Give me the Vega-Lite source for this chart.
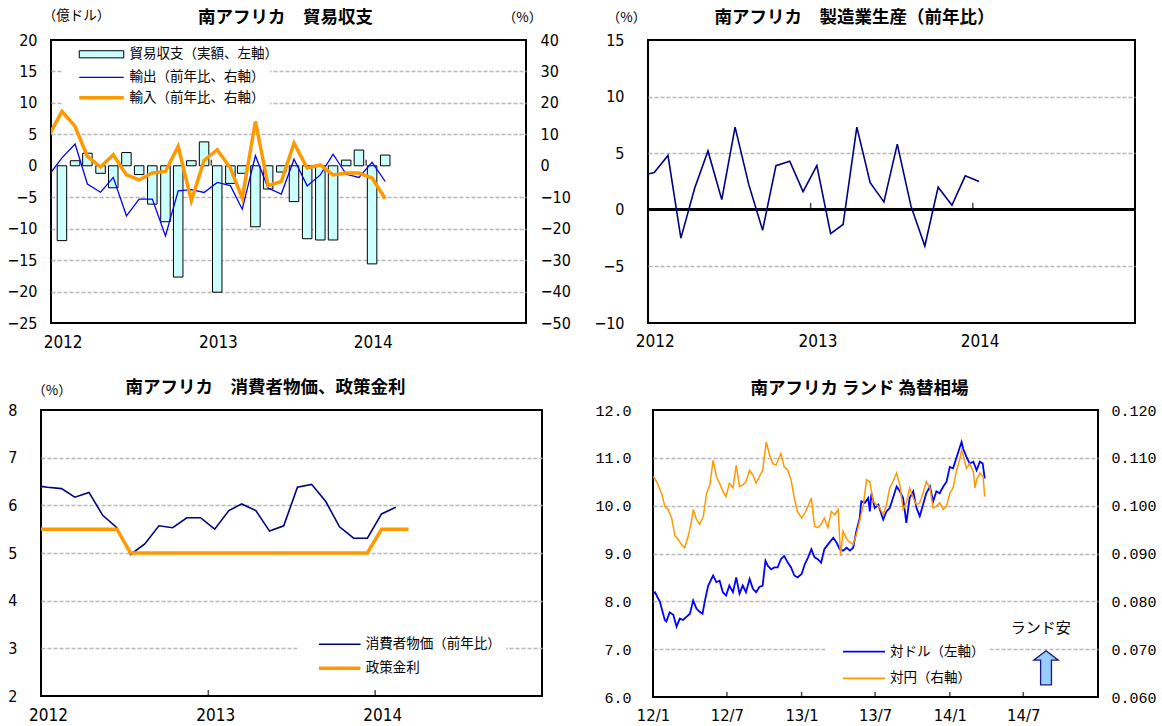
{
  "$schema": "https://vega.github.io/schema/vega-lite/v6.json",
  "background": "white",
  "autosize": {"type": "none"},
  "padding": {"left": 41, "top": 40, "right": 1121, "bottom": 686},
  "bounds": "flush",
  "spacing": 370,
  "resolve": {"scale": {"color": "independent", "fill": "independent", "stroke": "independent"}},
  "vconcat": [
    {
      "bounds": "flush",
      "spacing": 0,
      "resolve": {"scale": {"color": "independent", "fill": "independent", "stroke": "independent"}},
      "hconcat": [
        {"width": 10, "height": 1, "data": {"values": []}, "mark": {"type": "point", "opacity": 0}, "view": {"stroke": null}},
        {
          "width": 475,
          "height": 283,
          "title": {"text": "南アフリカ　貿易収支", "dx": -3, "dy": 22, "offset": 4},
          "layer": [
            {
              "layer": [
                {
                  "data": {"values": [
                    {"month": "2012-01-15", "balance": -11.9}, {"month": "2012-02-15", "balance": 0.8},
                    {"month": "2012-03-15", "balance": 2.0}, {"month": "2012-04-15", "balance": -1.2},
                    {"month": "2012-05-15", "balance": -3.5}, {"month": "2012-06-15", "balance": 2.1},
                    {"month": "2012-07-15", "balance": -1.4}, {"month": "2012-08-15", "balance": -6.1},
                    {"month": "2012-09-15", "balance": -8.9}, {"month": "2012-10-15", "balance": -17.7},
                    {"month": "2012-11-15", "balance": 0.8}, {"month": "2012-12-15", "balance": 3.8},
                    {"month": "2013-01-15", "balance": -20.1}, {"month": "2013-02-15", "balance": -2.8},
                    {"month": "2013-03-15", "balance": -1.2}, {"month": "2013-04-15", "balance": -9.7},
                    {"month": "2013-05-15", "balance": -3.7}, {"month": "2013-06-15", "balance": -1.0},
                    {"month": "2013-07-15", "balance": -5.7}, {"month": "2013-08-15", "balance": -11.6},
                    {"month": "2013-09-15", "balance": -11.8}, {"month": "2013-10-15", "balance": -11.8},
                    {"month": "2013-11-15", "balance": 0.9}, {"month": "2013-12-15", "balance": 2.5},
                    {"month": "2014-01-15", "balance": -15.6}, {"month": "2014-02-15", "balance": 1.7}
                  ]},
                  "mark": {"type": "bar", "orient": "vertical", "size": 9.5, "stroke": "black", "strokeWidth": 1},
                  "encoding": {
                    "x": {
                      "field": "month", "type": "temporal",
                      "scale": {"type": "utc", "nice": false, "domain": [{"year": 2012, "month": 1, "date": 1, "utc": true}, {"year": 2015, "month": 1, "date": 1, "utc": true}]},
                      "axis": {
                        "title": null, "grid": false, "format": "%Y", "labelOffset": 6.6, "labelFontSize": 17, "labelPadding": 11, "labelFlush": false, "labelOverlap": false,
                        "values": [{"year": 2012, "month": 1, "date": 1, "utc": true}, {"year": 2013, "month": 1, "date": 1, "utc": true}, {"year": 2014, "month": 1, "date": 1, "utc": true}]
                      }
                    },
                    "y": {
                      "field": "balance", "type": "quantitative",
                      "scale": {"domain": [-25, 20], "nice": false},
                      "axis": {
                        "title": "（億ドル）", "titleAngle": 0, "titleX": 25, "titleY": -25, "titleAlign": "center", "titleBaseline": "middle",
                        "values": [-25, -20, -15, -10, -5, 0, 5, 10, 15, 20], "tickCount": 20, "format": "d", "labelPadding": 14, "labelOverlap": false, "grid": true,
                        "gridOpacity": {"condition": {"test": "datum.value === 20 || datum.value === -25 || datum.value === 0", "value": 0}, "value": 1}
                      }
                    },
                    "fill": {
                      "datum": "貿易収支（実額、左軸）", "type": "nominal",
                      "scale": {"range": ["#ccffff"]},
                      "legend": {
                        "title": null, "orient": "none", "legendX": 12, "legendY": 2.3, "padding": 5, "symbolOffset": 10.5, "labelOffset": 5, "symbolSize": 1980, "clipHeight": 14,
                        "symbolType": "M-1,-0.16H1V0.16H-1Z", "symbolStrokeColor": "black", "symbolStrokeWidth": 1
                      }
                    }
                  }
                },
                {
                  "data": {"values": [{"month": "2013-01-01", "balance": 0}, {"month": "2014-01-01", "balance": 0}]},
                  "mark": {"type": "tick", "orient": "vertical", "size": 6, "thickness": 1.5, "color": "black", "yOffset": -3},
                  "encoding": {"x": {"field": "month", "type": "temporal"}, "y": {"field": "balance", "type": "quantitative"}}
                },
                {
                  "mark": {"type": "rule", "color": "black", "strokeWidth": 2},
                  "encoding": {"y": {"datum": 0}}
                }
              ]
            },
            {
              "layer": [
                {
                  "data": {"values": [
                    {"month": "2011-12-15", "yoy": -3.0}, {"month": "2012-01-15", "yoy": 2.5}, {"month": "2012-02-15", "yoy": 6.9},
                    {"month": "2012-03-15", "yoy": -5.8}, {"month": "2012-04-15", "yoy": -8.4}, {"month": "2012-05-15", "yoy": -3.7},
                    {"month": "2012-06-15", "yoy": -15.9}, {"month": "2012-07-15", "yoy": -10.6}, {"month": "2012-08-15", "yoy": -10.6},
                    {"month": "2012-09-15", "yoy": -22.3}, {"month": "2012-10-15", "yoy": -8.0}, {"month": "2012-11-15", "yoy": -7.6},
                    {"month": "2012-12-15", "yoy": -8.5}, {"month": "2013-01-15", "yoy": -5.3}, {"month": "2013-02-15", "yoy": -6.3},
                    {"month": "2013-03-15", "yoy": -13.8}, {"month": "2013-04-15", "yoy": 3.2}, {"month": "2013-05-15", "yoy": -7.1},
                    {"month": "2013-06-15", "yoy": -9.0}, {"month": "2013-07-15", "yoy": 2.1}, {"month": "2013-08-15", "yoy": -6.4},
                    {"month": "2013-09-15", "yoy": -2.9}, {"month": "2013-10-15", "yoy": 3.7}, {"month": "2013-11-15", "yoy": -2.7},
                    {"month": "2013-12-15", "yoy": -3.7}, {"month": "2014-01-15", "yoy": 1.1}, {"month": "2014-02-15", "yoy": -5.0}
                  ]},
                  "mark": {"type": "line", "strokeWidth": 1.3, "clip": true},
                  "encoding": {
                    "x": {"field": "month", "type": "temporal"},
                    "y": {
                      "field": "yoy", "type": "quantitative",
                      "scale": {"domain": [-50, 40], "nice": false},
                      "axis": {
                        "orient": "right", "title": "（%）", "titleAngle": 0, "titleX": -4, "titleY": -23, "titleAlign": "center", "titleBaseline": "middle",
                        "values": [-50, -40, -30, -20, -10, 0, 10, 20, 30, 40], "tickCount": 20, "format": "d", "labelPadding": 14, "labelOverlap": false, "grid": false
                      }
                    },
                    "stroke": {
                      "datum": "輸出（前年比、右軸）", "type": "nominal",
                      "scale": {"range": ["#0000ff"]},
                      "legend": {
                        "title": null, "orient": "none", "legendX": 12, "legendY": 25.3, "padding": 5, "symbolOffset": 10.5, "labelOffset": 5, "symbolSize": 1980, "clipHeight": 14,
                        "symbolType": "stroke", "symbolStrokeWidth": 1.3
                      }
                    }
                  }
                },
                {
                  "data": {"values": [
                    {"month": "2011-12-15", "yoy": 9.5}, {"month": "2012-01-15", "yoy": 17.3}, {"month": "2012-02-15", "yoy": 12.5},
                    {"month": "2012-03-15", "yoy": 3.0}, {"month": "2012-04-15", "yoy": -0.4}, {"month": "2012-05-15", "yoy": 3.5},
                    {"month": "2012-06-15", "yoy": -2.9}, {"month": "2012-07-15", "yoy": -4.5}, {"month": "2012-08-15", "yoy": -2.3},
                    {"month": "2012-09-15", "yoy": -1.8}, {"month": "2012-10-15", "yoy": 6.2}, {"month": "2012-11-15", "yoy": -11.1},
                    {"month": "2012-12-15", "yoy": 1.7}, {"month": "2013-01-15", "yoy": 5.1}, {"month": "2013-02-15", "yoy": -0.7},
                    {"month": "2013-03-15", "yoy": -10.3}, {"month": "2013-04-15", "yoy": 14.1}, {"month": "2013-05-15", "yoy": -6.3},
                    {"month": "2013-06-15", "yoy": -5.0}, {"month": "2013-07-15", "yoy": 7.2}, {"month": "2013-08-15", "yoy": -0.7},
                    {"month": "2013-09-15", "yoy": 0.3}, {"month": "2013-10-15", "yoy": -2.9}, {"month": "2013-11-15", "yoy": -2.3},
                    {"month": "2013-12-15", "yoy": -2.3}, {"month": "2014-01-15", "yoy": -3.9}, {"month": "2014-02-15", "yoy": -10.5}
                  ]},
                  "mark": {"type": "line", "strokeWidth": 3.5, "clip": true},
                  "encoding": {
                    "x": {"field": "month", "type": "temporal"},
                    "y": {"field": "yoy", "type": "quantitative"},
                    "color": {
                      "datum": "輸入（前年比、右軸）", "type": "nominal",
                      "scale": {"range": ["#ff9900"]},
                      "legend": {
                        "title": null, "orient": "none", "legendX": 12, "legendY": 45.7, "padding": 5, "symbolOffset": 9.5, "labelOffset": 4, "symbolSize": 1980, "clipHeight": 14,
                        "symbolType": "stroke", "symbolStrokeWidth": 3.5
                      }
                    }
                  }
                }
              ]
            }
          ],
          "resolve": {"scale": {"y": "independent"}}
        },
        {"width": 122, "height": 1, "data": {"values": []}, "mark": {"type": "point", "opacity": 0}, "view": {"stroke": null}},
        {
          "width": 487,
          "height": 283,
          "title": {"text": "南アフリカ　製造業生産（前年比）", "dx": -37, "dy": 20, "offset": 4},
          "data": {"values": [
            {"month": "2011-12-15", "yoy": 3.0}, {"month": "2012-01-15", "yoy": 3.3}, {"month": "2012-02-15", "yoy": 4.8},
            {"month": "2012-03-15", "yoy": -2.5}, {"month": "2012-04-15", "yoy": 1.9}, {"month": "2012-05-15", "yoy": 5.2},
            {"month": "2012-06-15", "yoy": 0.9}, {"month": "2012-07-15", "yoy": 7.3}, {"month": "2012-08-15", "yoy": 2.2},
            {"month": "2012-09-15", "yoy": -1.8}, {"month": "2012-10-15", "yoy": 3.9}, {"month": "2012-11-15", "yoy": 4.3},
            {"month": "2012-12-15", "yoy": 1.6}, {"month": "2013-01-15", "yoy": 3.9}, {"month": "2013-02-15", "yoy": -2.1},
            {"month": "2013-03-15", "yoy": -1.3}, {"month": "2013-04-15", "yoy": 7.3}, {"month": "2013-05-15", "yoy": 2.4},
            {"month": "2013-06-15", "yoy": 0.7}, {"month": "2013-07-15", "yoy": 5.8}, {"month": "2013-08-15", "yoy": 0.3},
            {"month": "2013-09-15", "yoy": -3.2}, {"month": "2013-10-15", "yoy": 2.0}, {"month": "2013-11-15", "yoy": 0.4},
            {"month": "2013-12-15", "yoy": 3.0}, {"month": "2014-01-15", "yoy": 2.5}
          ]},
          "layer": [
            {
              "mark": {"type": "rule", "color": "black", "strokeWidth": 2},
              "encoding": {"y": {"datum": 0}}
            },
            {
              "data": {"values": [{"month": "2013-01-01", "yoy": 0}, {"month": "2014-01-01", "yoy": 0}]},
              "mark": {"type": "tick", "orient": "vertical", "size": 7, "thickness": 1.5, "color": "black", "yOffset": -3.5},
              "encoding": {"x": {"field": "month", "type": "temporal"}, "y": {"field": "yoy", "type": "quantitative"}}
            },
            {
              "mark": {"type": "line", "color": "#000080", "strokeWidth": 1.6, "clip": true},
              "encoding": {
                "x": {
                  "field": "month", "type": "temporal",
                  "scale": {"type": "utc", "nice": false, "domain": [{"year": 2012, "month": 1, "date": 1, "utc": true}, {"year": 2015, "month": 1, "date": 1, "utc": true}]},
                  "axis": {
                    "title": null, "grid": false, "format": "%Y", "labelOffset": 6.8, "labelFontSize": 17, "labelPadding": 10, "labelFlush": false, "labelOverlap": false,
                    "values": [{"year": 2012, "month": 1, "date": 1, "utc": true}, {"year": 2013, "month": 1, "date": 1, "utc": true}, {"year": 2014, "month": 1, "date": 1, "utc": true}]
                  }
                },
                "y": {
                  "field": "yoy", "type": "quantitative",
                  "scale": {"domain": [-10, 15], "nice": false},
                  "axis": {
                    "title": "（%）", "titleAngle": 0, "titleX": -22, "titleY": -23, "titleAlign": "center", "titleBaseline": "middle",
                    "values": [-10, -5, 0, 5, 10, 15], "format": "d", "labelPadding": 24, "labelOverlap": false, "grid": true,
                    "gridOpacity": {"condition": {"test": "datum.value === 15 || datum.value === -10 || datum.value === 0", "value": 0}, "value": 1}
                  }
                }
              }
            }
          ]
        }
      ]
    },
    {
      "bounds": "flush",
      "spacing": 0,
      "resolve": {"scale": {"color": "independent", "fill": "independent", "stroke": "independent"}},
      "hconcat": [
        {
          "width": 501,
          "height": 286,
          "title": {"text": "南アフリカ　消費者物価、政策金利", "dx": -26, "dy": 17, "offset": 4},
          "layer": [
            {
              "data": {"values": [
                {"month": "2011-12-15", "rate": 6.42}, {"month": "2012-01-15", "rate": 6.38}, {"month": "2012-02-15", "rate": 6.35},
                {"month": "2012-03-15", "rate": 6.17}, {"month": "2012-04-15", "rate": 6.27}, {"month": "2012-05-15", "rate": 5.79},
                {"month": "2012-06-15", "rate": 5.53}, {"month": "2012-07-15", "rate": 4.97}, {"month": "2012-08-15", "rate": 5.19},
                {"month": "2012-09-15", "rate": 5.57}, {"month": "2012-10-15", "rate": 5.53}, {"month": "2012-11-15", "rate": 5.74},
                {"month": "2012-12-15", "rate": 5.74}, {"month": "2013-01-15", "rate": 5.50}, {"month": "2013-02-15", "rate": 5.89},
                {"month": "2013-03-15", "rate": 6.03}, {"month": "2013-04-15", "rate": 5.89}, {"month": "2013-05-15", "rate": 5.46},
                {"month": "2013-06-15", "rate": 5.57}, {"month": "2013-07-15", "rate": 6.38}, {"month": "2013-08-15", "rate": 6.44},
                {"month": "2013-09-15", "rate": 6.08}, {"month": "2013-10-15", "rate": 5.55}, {"month": "2013-11-15", "rate": 5.31},
                {"month": "2013-12-15", "rate": 5.31}, {"month": "2014-01-15", "rate": 5.82}, {"month": "2014-02-15", "rate": 5.96}
              ]},
              "mark": {"type": "line", "strokeWidth": 1.6, "clip": true},
              "encoding": {
                "x": {
                  "field": "month", "type": "temporal",
                  "scale": {"type": "utc", "nice": false, "domain": [{"year": 2012, "month": 1, "date": 1, "utc": true}, {"year": 2015, "month": 1, "date": 1, "utc": true}]},
                  "axis": {
                    "title": null, "grid": false, "format": "%Y", "labelOffset": 7, "labelFontSize": 17, "labelPadding": 11, "labelFlush": false, "labelOverlap": false,
                    "values": [{"year": 2012, "month": 1, "date": 1, "utc": true}, {"year": 2013, "month": 1, "date": 1, "utc": true}, {"year": 2014, "month": 1, "date": 1, "utc": true}]
                  }
                },
                "y": {
                  "field": "rate", "type": "quantitative",
                  "scale": {"domain": [2, 8], "nice": false, "zero": false},
                  "axis": {
                    "title": "（%）", "titleAngle": 0, "titleX": 10.5, "titleY": -20, "titleAlign": "center", "titleBaseline": "middle",
                    "values": [2, 3, 4, 5, 6, 7, 8], "format": "d", "labelPadding": 24, "labelOverlap": false, "grid": true,
                    "gridOpacity": {"condition": {"test": "datum.value === 8 || datum.value === 2", "value": 0}, "value": 1}
                  }
                },
                "color": {
                  "datum": "消費者物価（前年比）", "type": "nominal",
                  "scale": {"range": ["#000080"]},
                  "legend": {
                    "title": null, "orient": "none", "legendX": 256, "legendY": 222.3, "padding": 5, "symbolOffset": 15.7, "labelOffset": 4, "symbolSize": 1730, "clipHeight": 14,
                    "symbolType": "stroke", "symbolStrokeWidth": 1.6
                  }
                }
              }
            },
            {
              "data": {"values": [
                {"month": "2011-12-15", "rate": 5.5}, {"month": "2012-01-15", "rate": 5.5}, {"month": "2012-02-15", "rate": 5.5},
                {"month": "2012-03-15", "rate": 5.5}, {"month": "2012-04-15", "rate": 5.5}, {"month": "2012-05-15", "rate": 5.5},
                {"month": "2012-06-15", "rate": 5.5}, {"month": "2012-07-15", "rate": 5.0}, {"month": "2012-08-15", "rate": 5.0},
                {"month": "2012-09-15", "rate": 5.0}, {"month": "2012-10-15", "rate": 5.0}, {"month": "2012-11-15", "rate": 5.0},
                {"month": "2012-12-15", "rate": 5.0}, {"month": "2013-01-15", "rate": 5.0}, {"month": "2013-02-15", "rate": 5.0},
                {"month": "2013-03-15", "rate": 5.0}, {"month": "2013-04-15", "rate": 5.0}, {"month": "2013-05-15", "rate": 5.0},
                {"month": "2013-06-15", "rate": 5.0}, {"month": "2013-07-15", "rate": 5.0}, {"month": "2013-08-15", "rate": 5.0},
                {"month": "2013-09-15", "rate": 5.0}, {"month": "2013-10-15", "rate": 5.0}, {"month": "2013-11-15", "rate": 5.0},
                {"month": "2013-12-15", "rate": 5.0}, {"month": "2014-01-15", "rate": 5.5}, {"month": "2014-02-15", "rate": 5.5},
                {"month": "2014-03-15", "rate": 5.5}
              ]},
              "mark": {"type": "line", "strokeWidth": 3.5, "clip": true},
              "encoding": {
                "x": {"field": "month", "type": "temporal"},
                "y": {"field": "rate", "type": "quantitative"},
                "stroke": {
                  "datum": "政策金利", "type": "nominal",
                  "scale": {"range": ["#ff9900"]},
                  "legend": {
                    "title": null, "orient": "none", "legendX": 256, "legendY": 246.3, "padding": 5, "symbolOffset": 14.7, "labelOffset": 3, "symbolSize": 1730, "clipHeight": 14,
                    "symbolType": "stroke", "symbolStrokeWidth": 3.5
                  }
                }
              }
            },
            {
              "data": {"values": [{"month": "2013-01-01", "rate": 2}, {"month": "2014-01-01", "rate": 2}]},
              "mark": {"type": "tick", "orient": "vertical", "size": 6, "thickness": 1.5, "color": "black", "yOffset": -3},
              "encoding": {"x": {"field": "month", "type": "temporal"}, "y": {"field": "rate", "type": "quantitative"}}
            }
          ]
        },
        {"width": 111, "height": 1, "data": {"values": []}, "mark": {"type": "point", "opacity": 0}, "view": {"stroke": null}},
        {
          "width": 445,
          "height": 287,
          "title": {"text": "南アフリカ ランド 為替相場", "dx": -16, "dy": -1.5, "offset": 4},
          "layer": [
            {
              "layer": [
                {
                  "data": {"values": [
                    {"date": "2012-01-02", "rate": 8.17}, {"date": "2012-01-06", "rate": 8.19}, {"date": "2012-01-18", "rate": 7.99},
                    {"date": "2012-01-30", "rate": 7.61}, {"date": "2012-02-03", "rate": 7.58}, {"date": "2012-02-11", "rate": 7.77},
                    {"date": "2012-02-20", "rate": 7.72}, {"date": "2012-02-28", "rate": 7.47}, {"date": "2012-03-07", "rate": 7.64},
                    {"date": "2012-03-15", "rate": 7.61}, {"date": "2012-03-24", "rate": 7.68}, {"date": "2012-04-01", "rate": 7.74},
                    {"date": "2012-04-09", "rate": 8.02}, {"date": "2012-04-17", "rate": 7.85}, {"date": "2012-04-25", "rate": 7.78},
                    {"date": "2012-05-02", "rate": 7.74}, {"date": "2012-05-08", "rate": 8.02}, {"date": "2012-05-16", "rate": 8.33},
                    {"date": "2012-05-28", "rate": 8.54}, {"date": "2012-06-05", "rate": 8.40}, {"date": "2012-06-13", "rate": 8.43},
                    {"date": "2012-06-21", "rate": 8.19}, {"date": "2012-06-29", "rate": 8.12}, {"date": "2012-07-07", "rate": 8.33},
                    {"date": "2012-07-16", "rate": 8.19}, {"date": "2012-07-24", "rate": 8.50}, {"date": "2012-08-01", "rate": 8.16},
                    {"date": "2012-08-09", "rate": 8.33}, {"date": "2012-08-17", "rate": 8.19}, {"date": "2012-08-26", "rate": 8.47},
                    {"date": "2012-09-03", "rate": 8.26}, {"date": "2012-09-11", "rate": 8.19}, {"date": "2012-09-19", "rate": 8.30},
                    {"date": "2012-09-27", "rate": 8.33}, {"date": "2012-10-04", "rate": 8.85}, {"date": "2012-10-10", "rate": 8.74},
                    {"date": "2012-10-18", "rate": 8.67}, {"date": "2012-10-26", "rate": 8.71}, {"date": "2012-11-03", "rate": 8.71},
                    {"date": "2012-11-11", "rate": 8.88}, {"date": "2012-11-19", "rate": 8.95}, {"date": "2012-11-28", "rate": 8.81},
                    {"date": "2012-12-06", "rate": 8.71}, {"date": "2012-12-14", "rate": 8.54}, {"date": "2012-12-22", "rate": 8.50},
                    {"date": "2013-01-01", "rate": 8.57}, {"date": "2013-01-09", "rate": 8.78}, {"date": "2013-01-17", "rate": 8.92},
                    {"date": "2013-01-25", "rate": 9.09}, {"date": "2013-02-02", "rate": 8.92}, {"date": "2013-02-10", "rate": 8.88},
                    {"date": "2013-02-18", "rate": 8.81}, {"date": "2013-02-26", "rate": 9.09}, {"date": "2013-03-07", "rate": 9.19},
                    {"date": "2013-03-20", "rate": 9.33}, {"date": "2013-03-28", "rate": 9.23}, {"date": "2013-04-05", "rate": 9.09},
                    {"date": "2013-04-13", "rate": 9.06}, {"date": "2013-04-22", "rate": 9.12}, {"date": "2013-04-30", "rate": 9.06},
                    {"date": "2013-05-08", "rate": 9.12}, {"date": "2013-05-16", "rate": 9.47}, {"date": "2013-05-24", "rate": 9.74},
                    {"date": "2013-05-28", "rate": 10.09}, {"date": "2013-06-06", "rate": 10.06}, {"date": "2013-06-14", "rate": 10.16},
                    {"date": "2013-06-18", "rate": 9.88}, {"date": "2013-06-22", "rate": 10.26}, {"date": "2013-06-30", "rate": 9.95},
                    {"date": "2013-07-09", "rate": 10.02}, {"date": "2013-07-21", "rate": 9.71}, {"date": "2013-07-29", "rate": 9.88},
                    {"date": "2013-08-06", "rate": 9.95}, {"date": "2013-08-14", "rate": 10.16}, {"date": "2013-08-23", "rate": 10.40},
                    {"date": "2013-08-31", "rate": 10.30}, {"date": "2013-09-08", "rate": 10.16}, {"date": "2013-09-16", "rate": 9.64},
                    {"date": "2013-09-24", "rate": 10.16}, {"date": "2013-10-03", "rate": 10.30}, {"date": "2013-10-11", "rate": 9.95},
                    {"date": "2013-10-19", "rate": 9.78}, {"date": "2013-10-27", "rate": 10.02}, {"date": "2013-11-04", "rate": 10.26},
                    {"date": "2013-11-13", "rate": 10.40}, {"date": "2013-11-21", "rate": 10.09}, {"date": "2013-11-29", "rate": 10.30},
                    {"date": "2013-12-07", "rate": 10.26}, {"date": "2013-12-16", "rate": 10.40}, {"date": "2013-12-24", "rate": 10.50},
                    {"date": "2014-01-01", "rate": 10.81}, {"date": "2014-01-09", "rate": 10.78}, {"date": "2014-01-17", "rate": 10.99},
                    {"date": "2014-01-26", "rate": 11.23}, {"date": "2014-01-30", "rate": 11.33}, {"date": "2014-02-03", "rate": 11.19},
                    {"date": "2014-02-11", "rate": 11.02}, {"date": "2014-02-19", "rate": 10.88}, {"date": "2014-02-28", "rate": 10.92},
                    {"date": "2014-03-08", "rate": 10.74}, {"date": "2014-03-16", "rate": 10.92}, {"date": "2014-03-23", "rate": 10.88},
                    {"date": "2014-03-28", "rate": 10.57}
                  ]},
                  "mark": {"type": "line", "strokeWidth": 1.8},
                  "encoding": {
                    "x": {
                      "field": "date", "type": "temporal",
                      "scale": {"type": "utc", "nice": false, "domain": [{"year": 2012, "month": 1, "date": 1, "utc": true}, {"year": 2015, "month": 1, "date": 1, "utc": true}]},
                      "axis": {
                        "title": null, "grid": false, "format": "%y/%-m", "labelFontSize": 16.5, "labelPadding": 10, "labelFlush": false, "labelOverlap": false,
                        "values": [
                          {"year": 2012, "month": 1, "date": 1, "utc": true}, {"year": 2012, "month": 7, "date": 1, "utc": true},
                          {"year": 2013, "month": 1, "date": 1, "utc": true}, {"year": 2013, "month": 7, "date": 1, "utc": true},
                          {"year": 2014, "month": 1, "date": 1, "utc": true}, {"year": 2014, "month": 7, "date": 1, "utc": true}
                        ]
                      }
                    },
                    "y": {
                      "field": "rate", "type": "quantitative",
                      "scale": {"domain": [6, 12], "nice": false, "zero": false},
                      "axis": {
                        "title": null, "values": [6, 7, 8, 9, 10, 11, 12], "tickCount": 20, "format": ".1f", "labelFont": "Liberation Mono", "labelFontSize": 15, "labelPadding": 22, "labelOverlap": false, "grid": true,
                        "gridOpacity": {"condition": {"test": "datum.value === 6 || datum.value === 12", "value": 0}, "value": 1}
                      }
                    },
                    "color": {
                      "datum": "対ドル（左軸）", "type": "nominal",
                      "scale": {"domain": ["対ドル（左軸）", "対円（右軸）"], "range": ["#0000ff", "#ff9900"]},
                      "legend": {
                        "title": null, "orient": "none", "legendX": 172, "legendY": 229.7, "padding": 5, "symbolOffset": 12, "labelOffset": 4, "rowPadding": 12.6, "symbolSize": 1764, "clipHeight": 14,
                        "symbolType": "stroke", "symbolStrokeWidth": 1.8
                      }
                    }
                  }
                },
                {
                  "data": {"values": [
                    {"date": "2012-07-01", "rate": 6}, {"date": "2013-01-01", "rate": 6}, {"date": "2013-07-01", "rate": 6},
                    {"date": "2014-01-01", "rate": 6}, {"date": "2014-07-01", "rate": 6}
                  ]},
                  "mark": {"type": "tick", "orient": "vertical", "size": 5, "thickness": 1.5, "color": "black", "yOffset": -2.5},
                  "encoding": {"x": {"field": "date", "type": "temporal"}, "y": {"field": "rate", "type": "quantitative"}}
                },
                {
                  "data": {"values": [{"date": "2014-08-13", "rate": 7.44, "label": "ランド安"}]},
                  "mark": {"type": "text", "font": "Noto Sans CJK JP", "fontSize": 15, "color": "black", "align": "center", "baseline": "middle"},
                  "encoding": {"x": {"field": "date", "type": "temporal"}, "y": {"field": "rate", "type": "quantitative"}, "text": {"field": "label"}}
                },
                {
                  "data": {"values": [{"date": "2014-08-26", "rate": 6.61}]},
                  "mark": {"type": "point", "shape": "M0,-1L0.72,-0.45L0.32,-0.45L0.32,1L-0.32,1L-0.32,-0.45L-0.72,-0.45Z", "size": 1156, "filled": true, "fill": "#99ccff", "stroke": "#1a1a80", "strokeWidth": 1.3, "opacity": 1},
                  "encoding": {"x": {"field": "date", "type": "temporal"}, "y": {"field": "rate", "type": "quantitative"}}
                }
              ]
            },
            {
              "data": {"values": [
                {"date": "2012-01-02", "rate": 0.1061}, {"date": "2012-01-10", "rate": 0.1050}, {"date": "2012-01-22", "rate": 0.1026},
                {"date": "2012-01-30", "rate": 0.0999}, {"date": "2012-02-07", "rate": 0.0992}, {"date": "2012-02-16", "rate": 0.0974},
                {"date": "2012-02-24", "rate": 0.0937}, {"date": "2012-03-03", "rate": 0.0930}, {"date": "2012-03-11", "rate": 0.0919},
                {"date": "2012-03-19", "rate": 0.0912}, {"date": "2012-03-28", "rate": 0.0937}, {"date": "2012-04-05", "rate": 0.0968},
                {"date": "2012-04-09", "rate": 0.0992}, {"date": "2012-04-17", "rate": 0.0971}, {"date": "2012-04-25", "rate": 0.0961},
                {"date": "2012-05-04", "rate": 0.0978}, {"date": "2012-05-12", "rate": 0.1026}, {"date": "2012-05-20", "rate": 0.1043},
                {"date": "2012-05-28", "rate": 0.1095}, {"date": "2012-06-05", "rate": 0.1061}, {"date": "2012-06-13", "rate": 0.1047},
                {"date": "2012-06-21", "rate": 0.1030}, {"date": "2012-06-29", "rate": 0.1019}, {"date": "2012-07-07", "rate": 0.1047},
                {"date": "2012-07-16", "rate": 0.1037}, {"date": "2012-07-24", "rate": 0.1085}, {"date": "2012-08-01", "rate": 0.1040},
                {"date": "2012-08-09", "rate": 0.1043}, {"date": "2012-08-17", "rate": 0.1050}, {"date": "2012-08-26", "rate": 0.1074},
                {"date": "2012-09-03", "rate": 0.1064}, {"date": "2012-09-11", "rate": 0.1047}, {"date": "2012-09-19", "rate": 0.1061},
                {"date": "2012-09-27", "rate": 0.1074}, {"date": "2012-10-06", "rate": 0.1133}, {"date": "2012-10-14", "rate": 0.1106},
                {"date": "2012-10-22", "rate": 0.1088}, {"date": "2012-10-30", "rate": 0.1085}, {"date": "2012-11-11", "rate": 0.1109},
                {"date": "2012-11-19", "rate": 0.1081}, {"date": "2012-11-28", "rate": 0.1074}, {"date": "2012-12-06", "rate": 0.1054},
                {"date": "2012-12-14", "rate": 0.1016}, {"date": "2012-12-22", "rate": 0.0988}, {"date": "2013-01-01", "rate": 0.0974},
                {"date": "2013-01-09", "rate": 0.0985}, {"date": "2013-01-17", "rate": 0.0999}, {"date": "2013-01-25", "rate": 0.1016},
                {"date": "2013-02-02", "rate": 0.0957}, {"date": "2013-02-10", "rate": 0.0954}, {"date": "2013-02-18", "rate": 0.0961},
                {"date": "2013-02-26", "rate": 0.0974}, {"date": "2013-03-07", "rate": 0.0954}, {"date": "2013-03-15", "rate": 0.0988},
                {"date": "2013-03-24", "rate": 0.0981}, {"date": "2013-04-01", "rate": 0.0992}, {"date": "2013-04-07", "rate": 0.0895},
                {"date": "2013-04-13", "rate": 0.0947}, {"date": "2013-04-22", "rate": 0.0930}, {"date": "2013-04-30", "rate": 0.0923},
                {"date": "2013-05-08", "rate": 0.0919}, {"date": "2013-05-16", "rate": 0.0940}, {"date": "2013-05-24", "rate": 0.0968},
                {"date": "2013-06-02", "rate": 0.1002}, {"date": "2013-06-10", "rate": 0.1054}, {"date": "2013-06-18", "rate": 0.1050},
                {"date": "2013-06-26", "rate": 0.1009}, {"date": "2013-07-05", "rate": 0.1002}, {"date": "2013-07-13", "rate": 0.0995},
                {"date": "2013-07-21", "rate": 0.0981}, {"date": "2013-07-29", "rate": 0.1002}, {"date": "2013-08-06", "rate": 0.1037},
                {"date": "2013-08-14", "rate": 0.1050}, {"date": "2013-08-23", "rate": 0.1068}, {"date": "2013-08-31", "rate": 0.1043},
                {"date": "2013-09-08", "rate": 0.0992}, {"date": "2013-09-16", "rate": 0.1006}, {"date": "2013-09-24", "rate": 0.1037},
                {"date": "2013-10-03", "rate": 0.1016}, {"date": "2013-10-11", "rate": 0.1002}, {"date": "2013-10-19", "rate": 0.1006},
                {"date": "2013-10-27", "rate": 0.1026}, {"date": "2013-11-04", "rate": 0.1050}, {"date": "2013-11-13", "rate": 0.1037},
                {"date": "2013-11-21", "rate": 0.0995}, {"date": "2013-11-29", "rate": 0.0999}, {"date": "2013-12-07", "rate": 0.1006},
                {"date": "2013-12-16", "rate": 0.0992}, {"date": "2013-12-24", "rate": 0.0999}, {"date": "2014-01-01", "rate": 0.1026},
                {"date": "2014-01-09", "rate": 0.1037}, {"date": "2014-01-17", "rate": 0.1071}, {"date": "2014-01-26", "rate": 0.1099},
                {"date": "2014-01-30", "rate": 0.1116}, {"date": "2014-02-03", "rate": 0.1106}, {"date": "2014-02-11", "rate": 0.1078},
                {"date": "2014-02-19", "rate": 0.1088}, {"date": "2014-02-28", "rate": 0.1071}, {"date": "2014-03-04", "rate": 0.1037},
                {"date": "2014-03-08", "rate": 0.1054}, {"date": "2014-03-16", "rate": 0.1068}, {"date": "2014-03-24", "rate": 0.1061},
                {"date": "2014-03-28", "rate": 0.1019}
              ]},
              "mark": {"type": "line", "strokeWidth": 1.5},
              "encoding": {
                "x": {"field": "date", "type": "temporal"},
                "y": {
                  "field": "rate", "type": "quantitative",
                  "scale": {"domain": [0.06, 0.12], "nice": false, "zero": false},
                  "axis": {
                    "orient": "right", "title": null, "values": [0.06, 0.07, 0.08, 0.09, 0.1, 0.11, 0.12], "tickCount": 20, "format": ".3f",
                    "labelFont": "Liberation Mono", "labelFontSize": 15, "labelPadding": 13, "labelOverlap": false, "grid": false
                  }
                },
                "color": {"datum": "対円（右軸）", "type": "nominal"}
              }
            }
          ],
          "resolve": {"scale": {"y": "independent"}}
        }
      ]
    }
  ],
  "config": {
    "font": "Noto Sans CJK JP",
    "view": {"stroke": "black", "strokeWidth": 2},
    "axis": {
      "labelFont": "Liberation Sans Narrow, DejaVu Sans Condensed, Liberation Sans, sans-serif",
      "labelFontSize": 16,
      "labelColor": "black",
      "domain": false,
      "ticks": false,
      "tickSize": 0,
      "gridColor": "#b8b8b8",
      "gridDash": [4, 2],
      "gridWidth": 1.3,
      "titleFont": "Noto Sans CJK JP",
      "titleFontSize": 13.5,
      "titleFontWeight": "normal",
      "titleColor": "black",
      "labelOverlap": false
    },
    "legend": {
      "labelFont": "Noto Sans CJK JP",
      "labelFontSize": 13.5,
      "labelColor": "black",
      "fillColor": "white",
      "strokeColor": null
    },
    "title": {
      "font": "Noto Sans CJK JP",
      "fontSize": 17.5,
      "fontWeight": "bold",
      "color": "black",
      "anchor": "middle",
      "frame": "group"
    }
  }
}
